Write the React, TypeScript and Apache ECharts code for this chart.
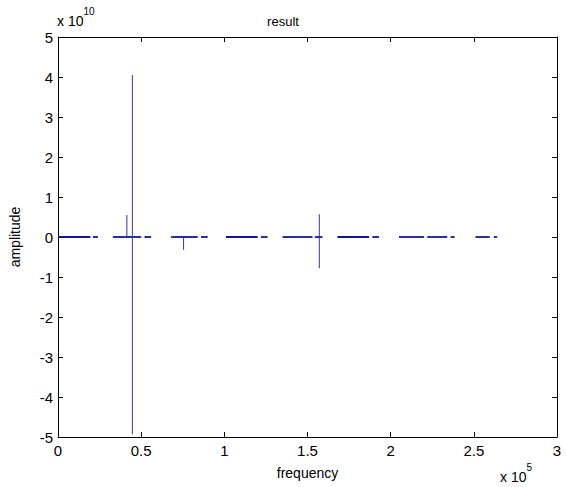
import React, { useEffect, useRef } from "react";
import * as echarts from "echarts";

// Near-zero stretches of the spectrum (frequency ranges in Hz, amplitude ~0)
const flatPieces: [number, number][] = [
  [0, 19500], [21000, 24000],
  [33000, 50000], [52000, 56000],
  [68000, 84000], [86000, 90000],
  [101000, 120000], [122000, 126000],
  [135000, 153000], [154500, 159000],
  [168000, 187000], [189000, 193000],
  [205000, 220000], [222000, 234000], [236000, 238500],
  [251000, 259500], [262000, 264000],
];

// Spikes: [frequency, max amplitude, min amplitude]
const spikes: [number, number, number][] = [
  [41400, 0.55e10, 0],
  [44700, 4.05e10, -4.93e10],
  [75500, 0, -0.32e10],
  [157100, 0.57e10, -0.78e10],
];

const xTicks = ["0", "0.5", "1", "1.5", "2", "2.5", "3"];
const yTicks = ["-5", "-4", "-3", "-2", "-1", "0", "1", "2", "3", "4", "5"];

export default function App() {
  const ref = useRef<HTMLDivElement>(null);
  useEffect(() => {
    if (!ref.current) return;
    const chart = echarts.init(ref.current, null, { renderer: "svg" });
    const font = "'Liberation Sans', Arial, sans-serif";
    const series: any[] = [];
    flatPieces.forEach(([a, b]) => {
      series.push({
        type: "line",
        data: [[a, 0], [b, 0]],
        symbol: "none",
        lineStyle: { color: "#0d1896", width: 1.8 },
        silent: true,
      });
    });
    spikes.forEach(([f, hi, lo]) => {
      series.push({
        type: "line",
        data: [[f, hi], [f, lo]],
        symbol: "none",
        lineStyle: { color: "#3434a8", width: 1 },
        silent: true,
      });
    });
    const axisCommon = {
      axisLine: { show: true, onZero: false, lineStyle: { color: "#000", width: 1 } },
      splitLine: { show: false },
    };
    const tick = { show: true, inside: true, length: 5, lineStyle: { color: "#000" } };
    chart.setOption({
      animation: false,
      title: {
        text: "result",
        left: "center",
        top: 10,
        textStyle: { fontFamily: font, fontSize: 13, fontWeight: "normal", color: "#000" },
      },
      grid: { left: 52, top: 37, right: 9, bottom: 50 },
      xAxis: [
        {
          type: "value",
          min: 0,
          max: 300000,
          interval: 50000,
          position: "bottom",
          name: "frequency",
          nameLocation: "middle",
          nameGap: 29,
          nameTextStyle: { fontFamily: font, fontSize: 14, color: "#000" },
          axisTick: tick,
          axisLabel: {
            fontFamily: font,
            fontSize: 15,
            color: "#000",
            margin: 6,
            formatter: (v: number) => xTicks[Math.round(v / 50000)] ?? "",
          },
          ...axisCommon,
        },
        {
          type: "value",
          min: 0,
          max: 300000,
          interval: 50000,
          position: "top",
          axisTick: tick,
          axisLabel: { show: false },
          ...axisCommon,
        },
      ],
      yAxis: [
        {
          type: "value",
          min: -5e10,
          max: 5e10,
          interval: 1e10,
          position: "left",
          name: "amplitude",
          nameLocation: "middle",
          nameGap: 36,
          nameRotate: 90,
          nameTextStyle: { fontFamily: font, fontSize: 14, color: "#000" },
          axisTick: tick,
          axisLabel: {
            fontFamily: font,
            fontSize: 15,
            color: "#000",
            margin: 5,
            formatter: (v: number) => yTicks[Math.round(v / 1e10) + 5] ?? "",
          },
          ...axisCommon,
        },
        {
          type: "value",
          min: -5e10,
          max: 5e10,
          interval: 1e10,
          position: "right",
          axisTick: tick,
          axisLabel: { show: false },
          ...axisCommon,
        },
      ],
      graphic: [
        {
          type: "text",
          left: 57,
          top: 6,
          style: {
            text: "{a|x 10}{b|10}",
            rich: {
              a: { fontFamily: font, fontSize: 14, color: "#000", verticalAlign: "bottom", lineHeight: 22 },
              b: { fontFamily: font, fontSize: 10, color: "#000", verticalAlign: "top", lineHeight: 22, padding: [0, 0, 10, 0] },
            },
          },
        },
        {
          type: "text",
          left: 500,
          top: 462,
          style: {
            text: "{a|x 10}{b|5}",
            rich: {
              a: { fontFamily: font, fontSize: 14, color: "#000", verticalAlign: "bottom", lineHeight: 22 },
              b: { fontFamily: font, fontSize: 10, color: "#000", verticalAlign: "top", lineHeight: 22, padding: [0, 0, 10, 0] },
            },
          },
        },
      ],
      series,
    });
    return () => chart.dispose();
  }, []);
  return (
    <div
      ref={ref}
      style={{ position: "fixed", left: 0, top: 0, width: 566, height: 487, background: "#fff" }}
    />
  );
}
